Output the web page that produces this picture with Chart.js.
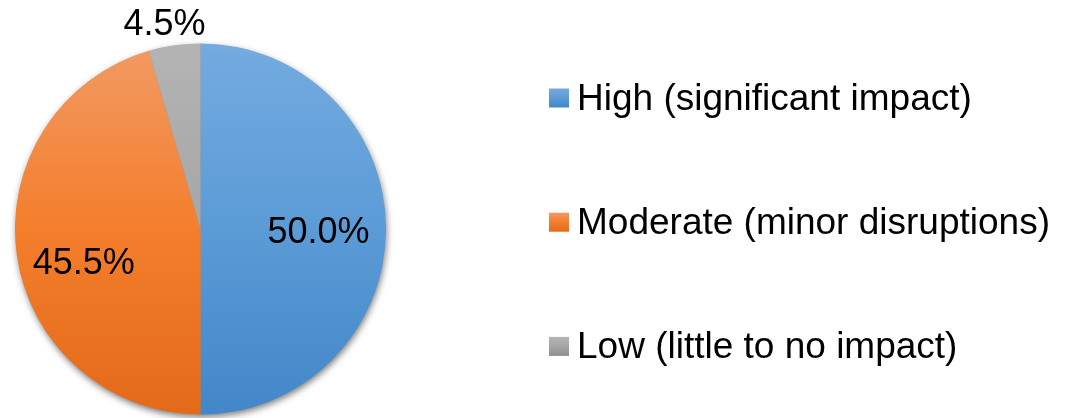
<!DOCTYPE html>
<html>
<head>
<meta charset="utf-8">
<script src="https://cdn.jsdelivr.net/npm/chart.js@4/dist/chart.umd.min.js"></script>
<style>
  html, body { margin: 0; padding: 0; background: #fff; }
  #wrap { width: 1066px; height: 418px; position: relative; }
</style>
</head>
<body>
<div id="wrap"><canvas id="c" width="1066" height="418"></canvas></div>
<script>
// Impact categories and their shares (percent)
const categories = ['High (significant impact)', 'Moderate (minor disruptions)', 'Low (little to no impact)'];
const shares = [50.0, 45.5, 4.5];

// Vertical gradient stops for each slice: [top, middle, bottom]
const sliceGradients = [
  ['#74abe0', '#5b9bd6', '#4287c9'],
  ['#f29a64', '#f47e2c', '#e36a18'],
  ['#b4b4b4', '#a6a6a6', '#8e8e8e']
];

const FONT = '"Liberation Sans", Arial, sans-serif';

function makeGradient(ctx, top, bottom, stops) {
  const g = ctx.createLinearGradient(0, top, 0, bottom);
  g.addColorStop(0, stops[0]);
  g.addColorStop(0.5, stops[1]);
  g.addColorStop(1, stops[2]);
  return g;
}

// Soft drop shadow under the whole pie
const pieShadow = {
  id: 'pieShadow',
  beforeDatasetsDraw(chart) {
    const arc = chart.getDatasetMeta(0).data[0];
    if (!arc) return;
    const { x, y, outerRadius } = arc.getProps(['x', 'y', 'outerRadius'], true);
    const ctx = chart.ctx;
    ctx.save();
    ctx.shadowColor = 'rgba(0,0,0,0.55)';
    ctx.shadowBlur = 7;
    ctx.shadowOffsetX = 1;
    ctx.shadowOffsetY = 3;
    ctx.fillStyle = '#888';
    ctx.beginPath();
    ctx.arc(x, y, outerRadius - 0.5, 0, Math.PI * 2);
    ctx.fill();
    ctx.restore();
  }
};

// Percentage labels placed along each slice's middle angle
const sliceLabels = {
  id: 'sliceLabels',
  afterDatasetsDraw(chart, args, opts) {
    const ctx = chart.ctx;
    const meta = chart.getDatasetMeta(0);
    const values = chart.data.datasets[0].data;
    ctx.save();
    ctx.font = opts.size + 'px ' + FONT;
    ctx.fillStyle = opts.color;
    ctx.textAlign = 'center';
    ctx.textBaseline = 'alphabetic';
    meta.data.forEach((arc, i) => {
      const p = arc.getProps(['x', 'y', 'startAngle', 'endAngle', 'outerRadius'], true);
      const mid = (p.startAngle + p.endAngle) / 2;
      const place = opts.place[i];
      const r = p.outerRadius * place.r;
      const cx = p.x + Math.cos(mid) * r + place.dx;
      const cy = p.y + Math.sin(mid) * r + place.dy;
      ctx.fillText(values[i].toFixed(1) + '%', cx, cy + opts.size * 0.358);
    });
    ctx.restore();
  }
};

// Legend drawn to the right of the pie
const sideLegend = {
  id: 'sideLegend',
  afterDraw(chart, args, opts) {
    const ctx = chart.ctx;
    ctx.save();
    ctx.font = opts.size + 'px ' + FONT;
    ctx.fillStyle = opts.color;
    ctx.textAlign = 'left';
    ctx.textBaseline = 'alphabetic';
    chart.data.labels.forEach((label, i) => {
      const base = opts.firstBaseline + i * opts.rowGap;
      const bx = opts.boxX, by = base - 21, bw = 20, bh = 19;
      ctx.fillStyle = makeGradient(ctx, by, by + bh, sliceGradients[i]);
      ctx.fillRect(bx, by, bw, bh);
      ctx.fillStyle = opts.color;
      ctx.fillText(label, opts.textX, base);
    });
    ctx.restore();
  }
};

new Chart(document.getElementById('c'), {
  type: 'pie',
  data: {
    labels: categories,
    datasets: [{
      data: shares,
      borderWidth: 0,
      backgroundColor(context) {
        const area = context.chart.chartArea;
        const stops = sliceGradients[context.dataIndex];
        if (!area) return stops[1];
        return makeGradient(context.chart.ctx, area.top, area.bottom, stops);
      }
    }]
  },
  options: {
    responsive: false,
    animation: false,
    layout: { padding: { left: 15, top: 43, bottom: 3, right: 680 } },
    plugins: {
      legend: { display: false },
      tooltip: { enabled: false },
      sliceLabels: {
        size: 36,
        color: '#000',
        place: [
          { r: 0.636, dx: 0, dy: 1 },
          { r: 0.636, dx: 0, dy: 15 },
          { r: 1.11, dx: -7, dy: -3 }
        ]
      },
      sideLegend: {
        size: 37,
        color: '#000',
        boxX: 549,
        textX: 577,
        firstBaseline: 109.5,
        rowGap: 124.2
      }
    }
  },
  plugins: [pieShadow, sliceLabels, sideLegend]
});
</script>
</body>
</html>
